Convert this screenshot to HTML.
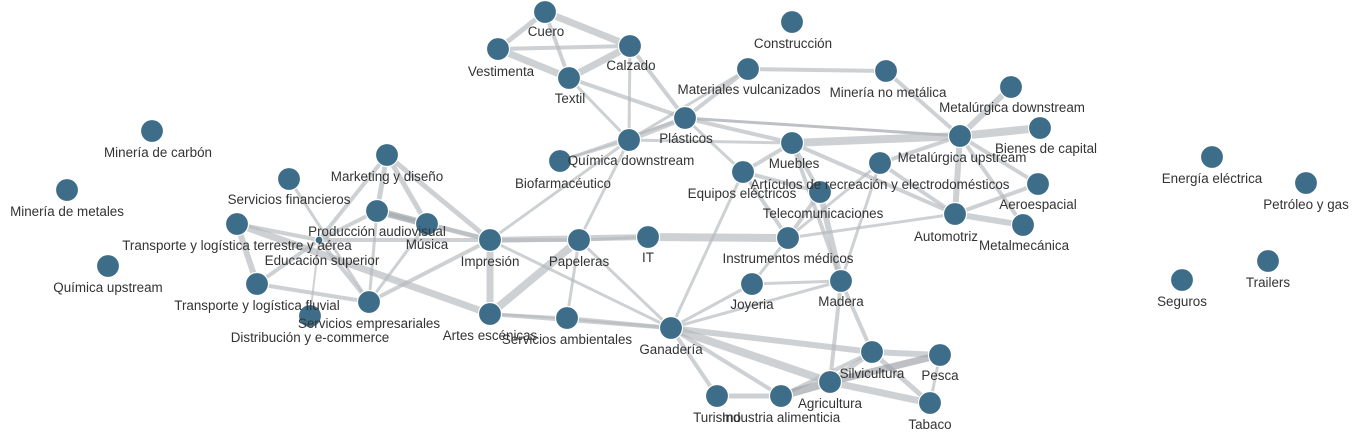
<!DOCTYPE html>
<html><head><meta charset="utf-8"><style>
html,body{margin:0;padding:0;background:#fff;}
svg{display:block;}
text{font-family:"Liberation Sans",sans-serif;font-size:13.4px;fill:#333;text-anchor:middle;}
line{stroke:#b4b8bc;stroke-opacity:.65;stroke-linecap:round;}
circle{fill:#3d6d88;stroke:#fff;stroke-width:1.2;}
</style></head><body>
<svg width="1355" height="433" viewBox="0 0 1355 433">
<g id="edges">
<line x1="545" y1="12" x2="498" y2="49" stroke-width="5"/>
<line x1="545" y1="12" x2="630" y2="46" stroke-width="7"/>
<line x1="545" y1="12" x2="569" y2="78" stroke-width="4"/>
<line x1="498" y1="49" x2="630" y2="46" stroke-width="4"/>
<line x1="498" y1="49" x2="569" y2="78" stroke-width="7"/>
<line x1="569" y1="78" x2="630" y2="46" stroke-width="7"/>
<line x1="569" y1="78" x2="685" y2="118" stroke-width="4"/>
<line x1="630" y1="46" x2="685" y2="118" stroke-width="4"/>
<line x1="630" y1="46" x2="629" y2="140" stroke-width="3"/>
<line x1="569" y1="78" x2="629" y2="140" stroke-width="3"/>
<line x1="748" y1="69" x2="886" y2="71" stroke-width="4"/>
<line x1="748" y1="69" x2="685" y2="118" stroke-width="4"/>
<line x1="748" y1="69" x2="629" y2="140" stroke-width="3"/>
<line x1="886" y1="71" x2="960" y2="136" stroke-width="4"/>
<line x1="1011" y1="87" x2="960" y2="136" stroke-width="6"/>
<line x1="685" y1="118" x2="629" y2="140" stroke-width="5"/>
<line x1="685" y1="118" x2="792" y2="143" stroke-width="4"/>
<line x1="685" y1="118" x2="743" y2="172" stroke-width="3"/>
<line x1="685" y1="118" x2="960" y2="136" stroke-width="3" style="stroke:#9aa0a6"/>
<line x1="685" y1="118" x2="560" y2="161" stroke-width="3"/>
<line x1="629" y1="140" x2="490" y2="240" stroke-width="3"/>
<line x1="629" y1="140" x2="579" y2="240" stroke-width="3"/>
<line x1="629" y1="140" x2="560" y2="161" stroke-width="3"/>
<line x1="629" y1="140" x2="792" y2="143" stroke-width="3"/>
<line x1="792" y1="143" x2="960" y2="136" stroke-width="8"/>
<line x1="792" y1="143" x2="743" y2="172" stroke-width="4"/>
<line x1="792" y1="143" x2="820" y2="192" stroke-width="4"/>
<line x1="792" y1="143" x2="955" y2="214" stroke-width="4"/>
<line x1="792" y1="143" x2="841" y2="281" stroke-width="4"/>
<line x1="960" y1="136" x2="1040" y2="128" stroke-width="8"/>
<line x1="960" y1="136" x2="1038" y2="184" stroke-width="4"/>
<line x1="960" y1="136" x2="955" y2="214" stroke-width="6"/>
<line x1="960" y1="136" x2="1023" y2="225" stroke-width="4"/>
<line x1="960" y1="136" x2="880" y2="163" stroke-width="4"/>
<line x1="880" y1="163" x2="955" y2="214" stroke-width="4"/>
<line x1="880" y1="163" x2="841" y2="281" stroke-width="3"/>
<line x1="880" y1="163" x2="788" y2="238" stroke-width="3"/>
<line x1="955" y1="214" x2="1023" y2="225" stroke-width="6"/>
<line x1="955" y1="214" x2="1038" y2="184" stroke-width="4"/>
<line x1="955" y1="214" x2="788" y2="238" stroke-width="3"/>
<line x1="743" y1="172" x2="788" y2="238" stroke-width="4"/>
<line x1="743" y1="172" x2="820" y2="192" stroke-width="4"/>
<line x1="743" y1="172" x2="671" y2="328" stroke-width="3"/>
<line x1="820" y1="192" x2="788" y2="238" stroke-width="4"/>
<line x1="820" y1="192" x2="841" y2="281" stroke-width="6"/>
<line x1="648" y1="237" x2="788" y2="238" stroke-width="8"/>
<line x1="490" y1="240" x2="648" y2="237" stroke-width="6"/>
<line x1="579" y1="240" x2="648" y2="237" stroke-width="3"/>
<line x1="490" y1="240" x2="579" y2="240" stroke-width="4"/>
<line x1="579" y1="240" x2="671" y2="328" stroke-width="3"/>
<line x1="752" y1="284" x2="841" y2="281" stroke-width="3"/>
<line x1="788" y1="238" x2="752" y2="284" stroke-width="3"/>
<line x1="671" y1="328" x2="841" y2="281" stroke-width="3"/>
<line x1="671" y1="328" x2="752" y2="284" stroke-width="3"/>
<line x1="671" y1="328" x2="872" y2="352" stroke-width="6"/>
<line x1="671" y1="328" x2="830" y2="382" stroke-width="8"/>
<line x1="671" y1="328" x2="717" y2="396" stroke-width="4"/>
<line x1="671" y1="328" x2="781" y2="396" stroke-width="4"/>
<line x1="671" y1="328" x2="490" y2="314" stroke-width="4"/>
<line x1="671" y1="328" x2="567" y2="318" stroke-width="4"/>
<line x1="671" y1="328" x2="490" y2="240" stroke-width="3"/>
<line x1="872" y1="352" x2="940" y2="355" stroke-width="6"/>
<line x1="872" y1="352" x2="930" y2="403" stroke-width="5"/>
<line x1="872" y1="352" x2="830" y2="382" stroke-width="5"/>
<line x1="830" y1="382" x2="940" y2="355" stroke-width="7" style="stroke:#9aa0a6"/>
<line x1="830" y1="382" x2="930" y2="403" stroke-width="7"/>
<line x1="781" y1="396" x2="872" y2="352" stroke-width="4"/>
<line x1="781" y1="396" x2="717" y2="396" stroke-width="5"/>
<line x1="781" y1="396" x2="830" y2="382" stroke-width="8" style="stroke:#9aa0a6"/>
<line x1="841" y1="281" x2="872" y2="352" stroke-width="4"/>
<line x1="841" y1="281" x2="830" y2="382" stroke-width="4"/>
<line x1="940" y1="355" x2="930" y2="403" stroke-width="3"/>
<line x1="490" y1="240" x2="490" y2="314" stroke-width="7"/>
<line x1="579" y1="240" x2="490" y2="314" stroke-width="8"/>
<line x1="490" y1="240" x2="387" y2="155" stroke-width="5"/>
<line x1="490" y1="240" x2="427" y2="224" stroke-width="5"/>
<line x1="490" y1="240" x2="377" y2="211" stroke-width="4"/>
<line x1="490" y1="240" x2="369" y2="302" stroke-width="4"/>
<line x1="490" y1="240" x2="319" y2="240" stroke-width="4"/>
<line x1="237" y1="224" x2="490" y2="314" stroke-width="7"/>
<line x1="490" y1="314" x2="567" y2="318" stroke-width="3"/>
<line x1="579" y1="240" x2="567" y2="318" stroke-width="3"/>
<line x1="387" y1="155" x2="377" y2="211" stroke-width="5"/>
<line x1="387" y1="155" x2="427" y2="224" stroke-width="5"/>
<line x1="387" y1="155" x2="319" y2="240" stroke-width="4"/>
<line x1="377" y1="211" x2="427" y2="224" stroke-width="7" style="stroke:#9aa0a6"/>
<line x1="377" y1="211" x2="369" y2="302" stroke-width="3"/>
<line x1="377" y1="211" x2="319" y2="240" stroke-width="4"/>
<line x1="289" y1="179" x2="369" y2="302" stroke-width="3"/>
<line x1="237" y1="224" x2="257" y2="284" stroke-width="6"/>
<line x1="237" y1="224" x2="319" y2="240" stroke-width="4"/>
<line x1="257" y1="284" x2="369" y2="302" stroke-width="4"/>
<line x1="257" y1="284" x2="319" y2="240" stroke-width="4"/>
<line x1="310" y1="316" x2="319" y2="240" stroke-width="2"/>
<line x1="319" y1="240" x2="369" y2="302" stroke-width="4"/>
<line x1="427" y1="224" x2="369" y2="302" stroke-width="3"/>
</g>
<g id="nodes">
<circle cx="545" cy="12" r="11.5"/><circle cx="498" cy="49" r="11.5"/><circle cx="630" cy="46" r="11.5"/><circle cx="569" cy="78" r="11.5"/>
<circle cx="792" cy="22" r="11.5"/><circle cx="748" cy="69" r="11.5"/><circle cx="886" cy="71" r="11.5"/><circle cx="1011" cy="87" r="11.5"/>
<circle cx="685" cy="118" r="11.5"/><circle cx="629" cy="140" r="11.5"/><circle cx="560" cy="161" r="11.5"/><circle cx="792" cy="143" r="11.5"/>
<circle cx="960" cy="136" r="11.5"/><circle cx="880" cy="163" r="11.5"/><circle cx="743" cy="172" r="11.5"/><circle cx="820" cy="192" r="11.5"/>
<circle cx="1040" cy="128" r="11.5"/><circle cx="1038" cy="184" r="11.5"/><circle cx="955" cy="214" r="11.5"/><circle cx="1023" cy="225" r="11.5"/>
<circle cx="152" cy="131" r="11.5"/><circle cx="67" cy="190" r="11.5"/><circle cx="108" cy="266" r="11.5"/><circle cx="289" cy="179" r="11.5"/>
<circle cx="387" cy="155" r="11.5"/><circle cx="377" cy="211" r="11.5"/><circle cx="427" cy="224" r="11.5"/><circle cx="237" cy="224" r="11.5"/>
<circle cx="319" cy="240" r="4"/>
<circle cx="490" cy="240" r="11.5"/><circle cx="579" cy="240" r="11.5"/><circle cx="648" cy="237" r="11.5"/><circle cx="788" cy="238" r="11.5"/>
<circle cx="752" cy="284" r="11.5"/><circle cx="841" cy="281" r="11.5"/><circle cx="257" cy="284" r="11.5"/><circle cx="369" cy="302" r="11.5"/>
<circle cx="490" cy="314" r="11.5"/><circle cx="567" cy="318" r="11.5"/><circle cx="671" cy="328" r="11.5"/>
<circle cx="872" cy="352" r="11.5"/><circle cx="940" cy="355" r="11.5"/><circle cx="830" cy="382" r="11.5"/><circle cx="781" cy="396" r="11.5"/>
<circle cx="717" cy="396" r="11.5"/><circle cx="930" cy="403" r="11.5"/>
<circle cx="1212" cy="157" r="11.5"/><circle cx="1306" cy="183" r="11.5"/><circle cx="1268" cy="261" r="11.5"/><circle cx="1182" cy="280" r="11.5"/>
<circle cx="310" cy="316" r="11.5"/>
</g>
<g id="labels">
<text x="546" y="36">Cuero</text><text x="501" y="76">Vestimenta</text><text x="631" y="70">Calzado</text><text x="570" y="103">Textil</text>
<text x="793" y="48">Construcción</text><text x="749" y="94">Materiales vulcanizados</text><text x="888" y="97">Minería no metálica</text>
<text x="1012" y="112">Metalúrgica downstream</text><text x="686" y="143">Plásticos</text><text x="631" y="165">Química downstream</text>
<text x="563" y="188">Biofarmacéutico</text><text x="794" y="168">Muebles</text><text x="962" y="162">Metalúrgica upstream</text>
<text x="880" y="189">Artículos de recreación y electrodomésticos</text><text x="742" y="198">Equipos eléctricos</text>
<text x="823" y="218">Telecomunicaciones</text><text x="1046" y="153">Bienes de capital</text><text x="1038" y="209">Aeroespacial</text>
<text x="946" y="241">Automotriz</text><text x="1024" y="250">Metalmecánica</text>
<text x="158" y="157">Minería de carbón</text><text x="67" y="216">Minería de metales</text><text x="108" y="292">Química upstream</text>
<text x="289" y="204">Servicios financieros</text><text x="387" y="181">Marketing y diseño</text><text x="377" y="236">Producción audiovisual</text>
<text x="427" y="249">Música</text><text x="237" y="250">Transporte y logística terrestre y aérea</text><text x="322" y="265">Educación superior</text>
<text x="490" y="266">Impresión</text><text x="579" y="266">Papeleras</text><text x="648" y="262">IT</text><text x="788" y="263">Instrumentos médicos</text>
<text x="752" y="309">Joyeria</text><text x="841" y="306">Madera</text><text x="257" y="310">Transporte y logística fluvial</text>
<text x="369" y="328">Servicios empresariales</text><text x="310" y="342">Distribución y e-commerce</text>
<text x="490" y="340">Artes escénicas</text><text x="567" y="344">Servicios ambientales</text><text x="671" y="354">Ganadería</text>
<text x="872" y="378">Silvicultura</text><text x="940" y="380">Pesca</text><text x="830" y="408">Agricultura</text>
<text x="781" y="422">Industria alimenticia</text><text x="717" y="422">Turismo</text><text x="930" y="429">Tabaco</text>
<text x="1212" y="183">Energía eléctrica</text><text x="1306" y="209">Petróleo y gas</text><text x="1268" y="287">Trailers</text><text x="1182" y="306">Seguros</text>
</g>
</svg>
</body></html>
